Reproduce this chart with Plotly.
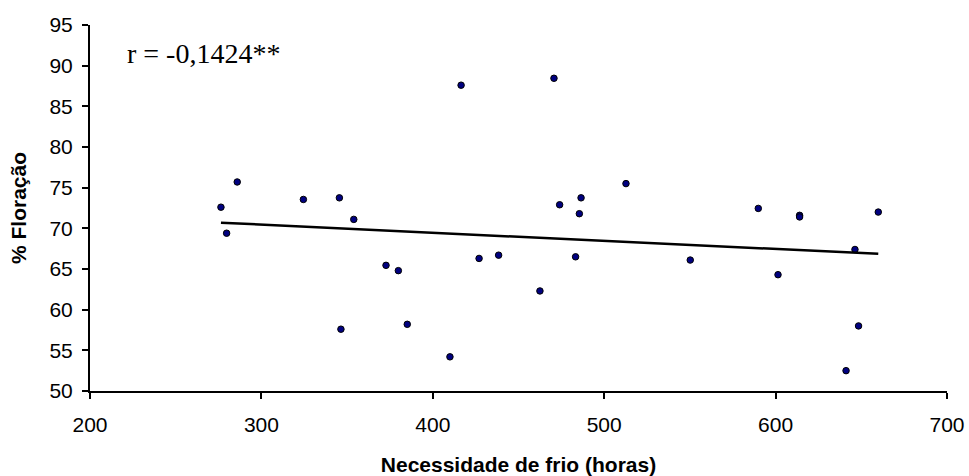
import numpy as np
import plotly.graph_objects as go

# Data
chill_hours = [276.4, 279.7, 285.9, 324.5, 345.5, 346.4, 353.9, 372.7, 379.9, 385.1,
               410.0, 416.5, 427.0, 438.4, 462.5, 470.7, 474.0, 483.3, 485.5, 486.5,
               512.7, 550.2, 589.9, 601.4, 614.0, 614.0, 641.1, 646.3, 648.4, 659.9]
flowering_pct = [72.6, 69.4, 75.7, 73.55, 73.75, 57.6, 71.1, 65.45, 64.8, 58.2,
                 54.2, 87.6, 66.3, 66.7, 62.3, 88.45, 72.9, 66.5, 71.8, 73.75,
                 75.5, 66.1, 72.45, 64.3, 71.6, 71.4, 52.5, 67.4, 58.0, 72.0]
x_ticks = [200, 300, 400, 500, 600, 700]
y_ticks = [50, 55, 60, 65, 70, 75, 80, 85, 90, 95]
annotation_text = "r = -0,1424**"

x = np.array(chill_hours)
y = np.array(flowering_pct)
slope, intercept = np.polyfit(x, y, 1)
line_x = np.array([x.min(), x.max()])
line_y = slope * line_x + intercept

fig = go.Figure()
fig.add_trace(go.Scatter(
    x=chill_hours, y=flowering_pct, mode="markers",
    marker=dict(size=6.5, color="#000080", line=dict(color="#000000", width=1)),
    showlegend=False, hoverinfo="x+y"))
fig.add_trace(go.Scatter(
    x=line_x, y=line_y, mode="lines",
    line=dict(color="#000000", width=2.5),
    showlegend=False, hoverinfo="skip"))

axis_font = dict(family="Liberation Sans, Arial, sans-serif", size=21, color="#000000")
title_font = dict(family="Liberation Sans, Arial, sans-serif", size=21, color="#000000")

fig.update_layout(
    width=969, height=476,
    margin=dict(l=90, r=22, t=25, b=85),
    paper_bgcolor="white", plot_bgcolor="white",
    xaxis=dict(
        range=[200, 700], tickvals=x_ticks, ticktext=[str(v) for v in x_ticks],
        showgrid=False, zeroline=False, showline=True, linecolor="black", linewidth=2,
        ticks="outside", ticklen=6, tickwidth=2, tickcolor="black",
        tickfont=axis_font, ticklabelstandoff=8,
        title=dict(text="<b>Necessidade de frio (horas)</b>", font=title_font, standoff=23),
        automargin=False,
    ),
    yaxis=dict(
        range=[50, 95], tickvals=y_ticks, ticktext=[str(v) for v in y_ticks],
        showgrid=False, zeroline=False, showline=True, linecolor="black", linewidth=2,
        ticks="outside", ticklen=6, tickwidth=2, tickcolor="black",
        tickfont=axis_font, ticklabelstandoff=5,
        title=dict(text="<b>% Floração</b>", font=title_font, standoff=17),
        automargin=False,
    ),
    annotations=[dict(
        x=220.4, y=91.45, xref="x", yref="y", text=annotation_text,
        showarrow=False, xanchor="left", yanchor="middle",
        font=dict(family="Liberation Serif, Times New Roman, serif", size=28, color="#000000"),
    )],
)

fig.write_html("out.html",
               config={"displayModeBar": False},
               post_script="document.body.style.margin='0px';document.body.style.overflow='hidden';")
